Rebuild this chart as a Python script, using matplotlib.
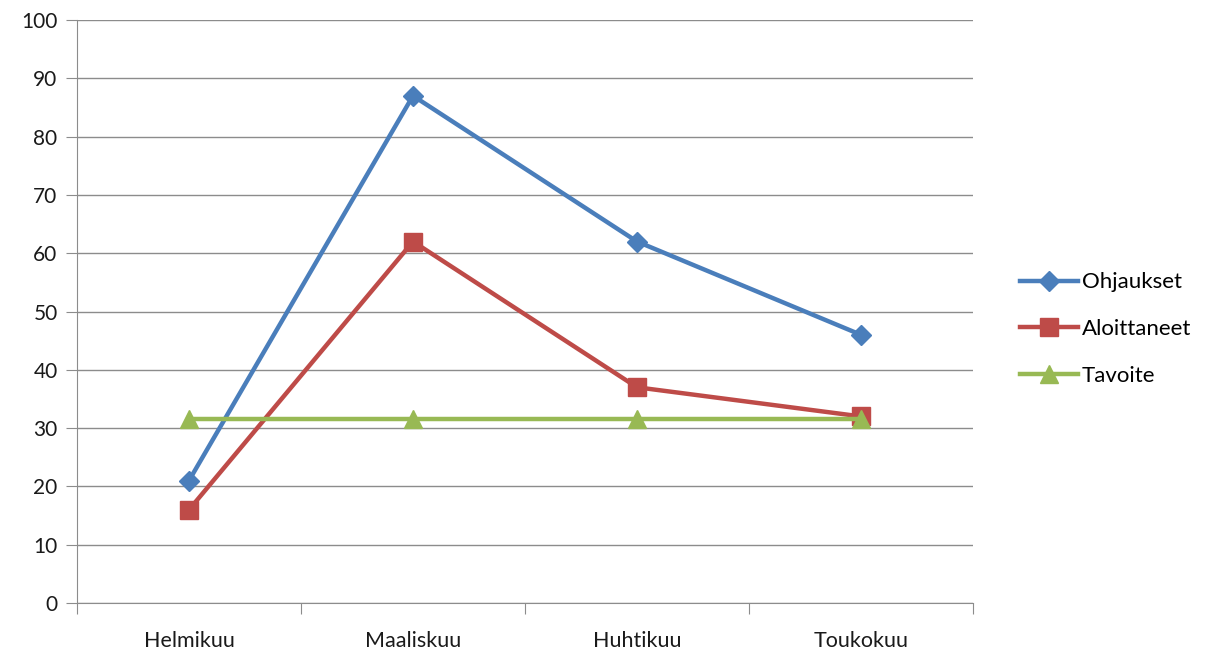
import numpy as np
import matplotlib.pyplot as plt

months = ['Helmikuu', 'Maaliskuu', 'Huhtikuu', 'Toukokuu']
ohjaukset = [21, 87, 62, 46]
aloittaneet = [16, 62, 37, 32]
tavoite = [31.5, 31.5, 31.5, 31.5]

plt.rcParams['font.family'] = ['Lato', 'DejaVu Sans']

fig = plt.figure(figsize=(12.11, 6.49), dpi=100)
ax = fig.add_axes((77 / 1211, 1 - 603 / 649, (973 - 77) / 1211, (603 - 20) / 649))

x = np.arange(len(months))
ax.plot(x, ohjaukset, color='#4A7EBB', lw=3.2, marker='D', ms=10, label='Ohjaukset', zorder=3)
ax.plot(x, aloittaneet, color='#BE4B48', lw=3.2, marker='s', ms=13, label='Aloittaneet', zorder=3)
ax.plot(x, tavoite, color='#98B954', lw=3.2, marker='^', ms=13, label='Tavoite', zorder=3)

ax.set_xlim(-0.5, len(months) - 0.5)
ax.set_ylim(0, 100)
ax.set_yticks(range(0, 101, 10))
ax.yaxis.grid(True, color='#8c8c8c', lw=1)
ax.set_axisbelow(True)

# category boundaries get tick marks, labels sit at the centres
ax.set_xticks(np.arange(-0.5, len(months), 1))
ax.set_xticklabels([])
ax.set_xticks(x, minor=True)
ax.set_xticklabels(months, minor=True)
ax.tick_params(axis='x', which='major', length=8, color='#8c8c8c', direction='out')
ax.tick_params(axis='x', which='minor', length=0, pad=20, labelsize=15.5, labelcolor='#1a1a1a')
ax.tick_params(axis='y', length=8, color='#8c8c8c', labelsize=15, labelcolor='#1a1a1a', pad=6)

for s in ['top', 'right']:
    ax.spines[s].set_visible(False)
for s in ['left', 'bottom']:
    ax.spines[s].set_color('#8c8c8c')

ax.legend(loc='center left', bbox_to_anchor=(1.03, 0.47), frameon=False,
          fontsize=16, handlelength=2.6, handletextpad=0.2, labelspacing=1.2)

fig.savefig('out.png')
